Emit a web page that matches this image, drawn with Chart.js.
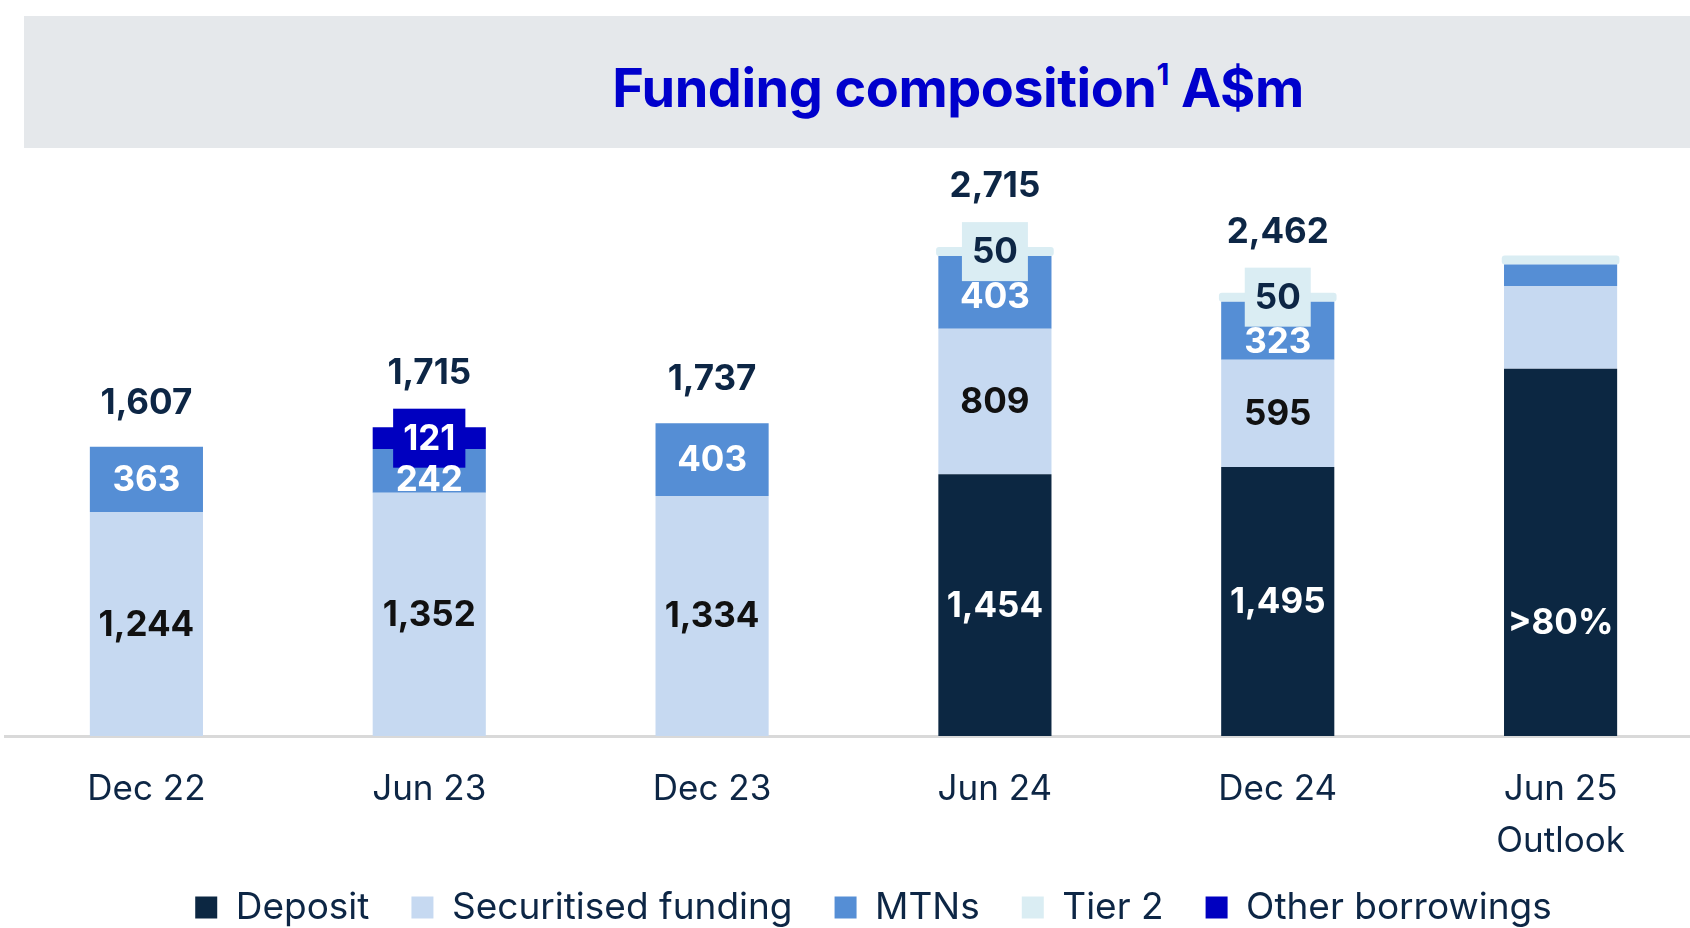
<!DOCTYPE html>
<html>
<head>
<meta charset="utf-8">
<title>Funding composition</title>
<script src="https://cdn.jsdelivr.net/npm/chart.js@4.4.1/dist/chart.umd.min.js"></script>
<style>
  html, body { margin: 0; padding: 0; background: #fff; overflow: hidden; }
  body { width: 1690px; height: 928px; position: relative; font-family: Inter, "Noto Sans", sans-serif; }
  #title-band { position: absolute; left: 24px; top: 16px; width: 1666px; height: 132px; background: #e5e8eb; }
  #title-band h1 {
    position: absolute; left: 934px; top: 0; margin: 0; transform: translateX(-50%);
    line-height: 144px; white-space: nowrap;
    font-size: 54px; font-weight: 700; letter-spacing: -0.5px; color: #0000cc;
  }
  #title-band sup { font-size: 30px; vertical-align: 22px; line-height: 0; }
  #chart-wrap { position: absolute; left: 0; top: 0; width: 1702px; height: 936px; }
</style>
</head>
<body>
<div id="title-band"><h1>Funding composition<sup>1</sup> A$m</h1></div>
<div id="chart-wrap"><canvas id="funding-chart"></canvas></div>

<script>
// Funding composition, A$m (printed values; Jun 25 outlook)
const categories = [['Dec 22'], ['Jun 23'], ['Dec 23'], ['Jun 24'], ['Dec 24'], ['Jun 25', 'Outlook']];
const deposit = [null, null, null, 1454, 1495, 2040];
const securitised = [1244, 1352, 1334, 809, 595, 460];
const mtns = [363, 242, 403, 403, 323, 120];
const tier2 = [null, null, null, 50, 50, 50];
const otherBorrowings = [null, 121, null, null, null, null];
const totals = [1607, 1715, 1737, 2715, 2462, null];
const outlookIndex = 5;
const outlookDepositLabel = '>80%';

const TEXT_DARK = '#0d2645';
const HALF_TEXT = 13;
const fmt = v => v.toLocaleString('en-US');

const segmentLabels = {
  id: 'segmentLabels',
  afterLayout(chart) {
    // let the two-line tick ("Jun 25 / Outlook") run past the axis box without clipping
    chart.scales.x.bottom = chart.height;
    // legend in the original sits a little right of centre
    chart.legend.left += 20;
    chart.legend.right += 20;
  },
  afterDatasetsDraw(chart) {
    const ctx = chart.ctx;
    const tops = [];
    const boxBottom = [];
    const items = [];
    ctx.save();
    ctx.font = 'bold 35px Inter';
    ctx.textAlign = 'center';
    ctx.textBaseline = 'middle';

    chart.data.datasets.forEach((ds, di) => {
      chart.getDatasetMeta(di).data.forEach((bar, i) => {
        const v = ds.data[i];
        if (v == null) return;
        tops[i] = Math.min(tops[i] ?? Infinity, bar.y);

        let text = fmt(v);
        let cy = (bar.y + bar.base) / 2;
        if (i === outlookIndex) {
          if (di !== 0) return;
          text = outlookDepositLabel;
          cy = bar.y + (bar.base - bar.y) * 0.69;
        }
        items.push({ ds, bar, i, text, cy });
      });
    });

    // boxes behind the small segments
    items.filter(it => it.ds.boxedLabel).forEach(it => {
      const w = ctx.measureText(it.text).width + 20;
      const h = 59;
      ctx.fillStyle = it.ds.backgroundColor;
      ctx.fillRect(it.bar.x - w / 2, it.cy - h / 2, w, h);
      tops[it.i] = Math.min(tops[it.i], it.cy - h / 2);
      boxBottom[it.i] = it.cy + h / 2;
    });

    // segment values, nudged below a box when they would run into it
    items.forEach(it => {
      let y = it.cy;
      if (!it.ds.boxedLabel && boxBottom[it.i] != null && y - HALF_TEXT < boxBottom[it.i] + 2) {
        y = Math.min(boxBottom[it.i] + 2 + HALF_TEXT, it.bar.base - HALF_TEXT);
      }
      ctx.fillStyle = it.ds.labelColor;
      ctx.fillText(it.text, it.bar.x, y + 1);
    });

    // totals above each stack
    ctx.fillStyle = TEXT_DARK;
    ctx.textBaseline = 'bottom';
    const xs = chart.getDatasetMeta(1).data;
    totals.forEach((t, i) => {
      if (t == null) return;
      ctx.fillText(fmt(t), xs[i].x, tops[i] - (boxBottom[i] != null ? 18 : 26));
    });
    ctx.restore();
  }
};

const barBase = { barPercentage: 0.4, categoryPercentage: 1, borderWidth: 0 };

new Chart(document.getElementById('funding-chart'), {
  type: 'bar',
  data: {
    labels: categories,
    datasets: [
      { ...barBase, label: 'Deposit', data: deposit, backgroundColor: '#0c2742', labelColor: '#ffffff' },
      { ...barBase, label: 'Securitised funding', data: securitised, backgroundColor: '#c6d9f1', labelColor: '#111111' },
      { ...barBase, label: 'MTNs', data: mtns, backgroundColor: '#558ed5', labelColor: '#ffffff' },
      { ...barBase, label: 'Tier 2', data: tier2, backgroundColor: '#daedf3', labelColor: TEXT_DARK,
        barPercentage: 0.416, borderRadius: 3, borderSkipped: false, boxedLabel: true },
      { ...barBase, label: 'Other borrowings', data: otherBorrowings, backgroundColor: '#0000c0', labelColor: '#ffffff',
        boxedLabel: true }
    ]
  },
  options: {
    responsive: true,
    maintainAspectRatio: false,
    animation: false,
    layout: { padding: { top: 160, left: 5, right: 0, bottom: 0 } },
    scales: {
      x: {
        stacked: true,
        grid: { display: false, drawTicks: false },
        border: { display: true, color: '#d9d9d9', width: 3 },
        ticks: {
          color: TEXT_DARK,
          padding: 27,
          font: { family: 'Inter', size: 35, lineHeight: 1.5 }
        },
        afterFit(scale) { scale.height = 111; }
      },
      y: {
        stacked: true,
        display: false,
        min: 0,
        max: 3200
      }
    },
    plugins: {
      title: { display: false },
      tooltip: { enabled: false },
      legend: {
        position: 'bottom',
        labels: {
          color: TEXT_DARK,
          boxWidth: 22,
          boxHeight: 22,
          padding: 42,
          font: { family: 'Inter', size: 37 }
        }
      }
    }
  },
  plugins: [segmentLabels]
});
</script>
</body>
</html>
